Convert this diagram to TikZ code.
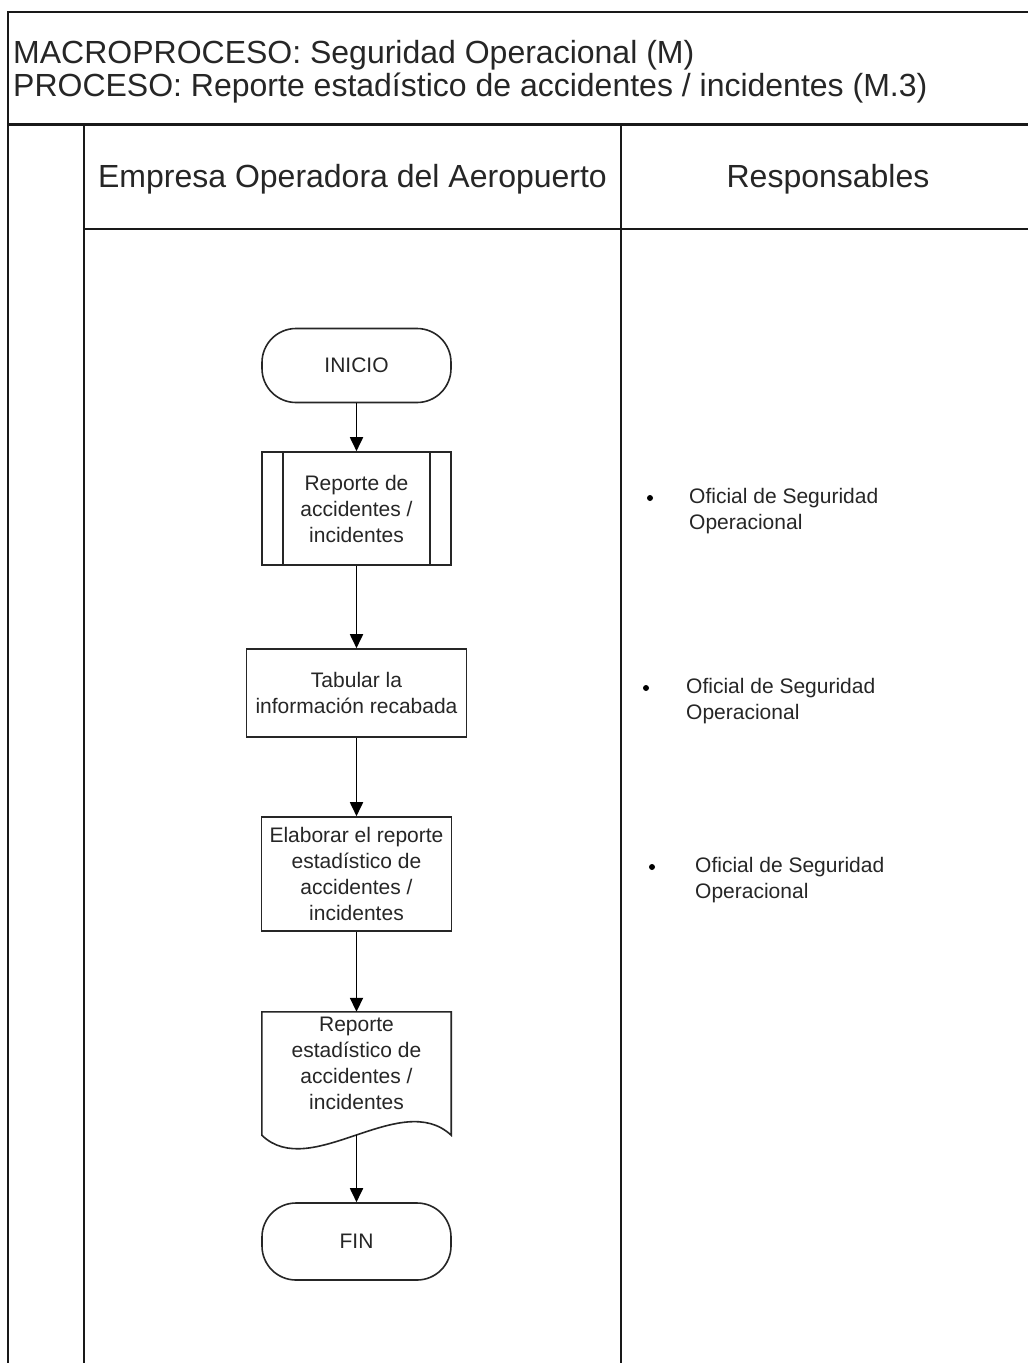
\documentclass[tikz,border=0pt]{standalone}
\usepackage{fontspec}
\setmainfont{Liberation Sans}
\usetikzlibrary{arrows.meta,calc}

\begin{document}
\begin{tikzpicture}[x=1pt,y=-1pt,
  frame/.style={draw=black!90, line width=2pt},
  heavyframe/.style={draw=black!90, line width=3pt},
  shapeline/.style={draw=black!85, line width=1.6pt},
  flowbox/.style={shapeline, align=center, inner sep=0pt, text=black!85,
    font=\fontsize{21}{26}\selectfont},
  term/.style={flowbox, minimum width=189pt, rounded corners=34pt},
  docbox/.style={align=center, inner sep=0pt, text=black!85,
    minimum width=189pt, minimum height=102pt, font=\fontsize{21}{26}\selectfont},
  flow/.style={draw=black, line width=1.8pt, -{Triangle[length=14pt,width=13pt]}},
  bigtext/.style={inner sep=0pt, text=black!85, font=\fontsize{32}{33}\selectfont},
  resp/.style={inner sep=0pt, align=left, anchor=north west, text=black!85,
    font=\fontsize{21}{26}\selectfont},
  dot/.style={circle, fill=black, inner sep=0pt, minimum size=6pt}
]
\useasboundingbox (0,0) rectangle (1028,1363);
\fill[white] (0,0) rectangle (1028,1363);

% outer frame and swimlane grid
\draw[frame] (8,1366) -- (8,12) -- (1032,12);
\draw[heavyframe] (8,124) -- (1032,124);
\draw[frame] (84,124) -- (84,1366);
\draw[frame] (621,124) -- (621,1366);
\draw[frame] (84,229) -- (1032,229);

% title block
\node[bigtext, align=left, anchor=north west] (title) at (13,40.6)
  {MACROPROCESO: Seguridad Operacional (M)\\PROCESO: Reporte estadístico de accidentes / incidentes (M.3)};

% lane headers
\node[bigtext, anchor=base] (lane1) at (352.5,187) {Empresa Operadora del Aeropuerto};
\node[bigtext, anchor=base] (lane2) at (828,187) {Responsables};

% flowchart
\node[term, minimum height=74pt] (inicio) at (356.5,365.5) {INICIO};

\node[flowbox, minimum width=189pt, minimum height=113pt] (rep) at (356.5,508.5)
  {Reporte de\\accidentes /\\incidentes};
\draw[shapeline] ([xshift=22pt]rep.north west) -- ([xshift=22pt]rep.south west);
\draw[shapeline] ([xshift=-22pt]rep.north east) -- ([xshift=-22pt]rep.south east);

\node[flowbox, minimum width=220pt, minimum height=88pt] (tab) at (356.5,693)
  {Tabular la\\información recabada};

\node[flowbox, minimum width=190pt, minimum height=114pt] (elab) at (356.5,874)
  {Elaborar el reporte\\estadístico de\\accidentes /\\incidentes};

\node[docbox] (doc) at (356.5,1063)
  {Reporte\\estadístico de\\accidentes /\\incidentes};
\draw[shapeline] ($(doc.south west)+(0,21)$) -- (doc.north west) -- (doc.north east)
  -- ($(doc.south east)+(0,21)$)
  .. controls ($(doc.south)+(44,-26)$) and ($(doc.south)+(-46,68)$) ..
  ($(doc.south west)+(0,21)$) -- cycle;
\coordinate (docout) at ($(doc.south)+(0,21)$);

\node[term, minimum height=77pt] (fin) at (356.5,1241.5) {FIN};

% connectors
\draw[flow] (inicio) -- (rep);
\draw[flow] (rep) -- (tab);
\draw[flow] (tab) -- (elab);
\draw[flow] (elab) -- (doc.north);
\draw[flow] (docout) -- (fin);

% responsibilities
\node[dot] (d1) at (650,498) {};
\node[resp] (r1) at (689,488.5) {Oficial de Seguridad\\Operacional};
\node[dot] (d2) at (646,688) {};
\node[resp] (r2) at (686,678.5) {Oficial de Seguridad\\Operacional};
\node[dot] (d3) at (652,867) {};
\node[resp] (r3) at (695,857.5) {Oficial de Seguridad\\Operacional};
\end{tikzpicture}
\end{document}
